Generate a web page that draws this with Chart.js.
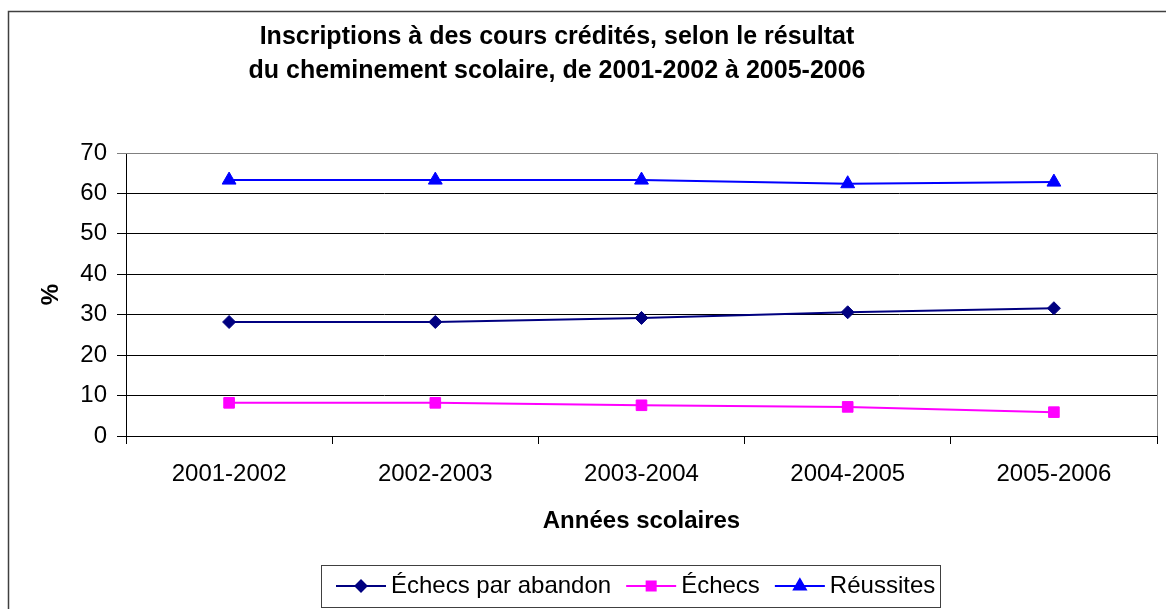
<!DOCTYPE html>
<html>
<head>
<meta charset="utf-8">
<script src="https://cdn.jsdelivr.net/npm/chart.js"></script>
<style>
  html, body { margin: 0; padding: 0; background: #fff; }
  canvas { display: block; }
</style>
</head>
<body>
<canvas id="chart" width="1166" height="609"></canvas>
<script>
// données
const years = ['2001-2002', '2002-2003', '2003-2004', '2004-2005', '2005-2006'];
const abandons = [28.2, 28.2, 29.2, 30.6, 31.6];
const echecs = [8.2, 8.2, 7.6, 7.2, 5.9];
const reussites = [63.3, 63.3, 63.3, 62.4, 62.8];

const titleLines = ['Inscriptions à des cours crédités, selon le résultat',
                    'du cheminement scolaire, de 2001-2002 à 2005-2006'];

const FONT = '"Liberation Sans", Arial, sans-serif';

// cadre, titre, bordure du graphique et légende
const decorPlugin = {
    id: 'decor',
    afterDraw(chart) {
        const ctx = chart.ctx;
        const area = chart.chartArea;
        ctx.save();

        ctx.strokeStyle = '#404040';
        ctx.lineWidth = 1.5;
        ctx.strokeRect(8.5, 11.5, 1200, 700);

        ctx.strokeStyle = '#808080';
        ctx.lineWidth = 1;
        ctx.beginPath();
        ctx.moveTo(area.left, Math.round(area.top) + 0.5);
        ctx.lineTo(Math.round(area.right) + 0.5, Math.round(area.top) + 0.5);
        ctx.lineTo(Math.round(area.right) + 0.5, area.bottom);
        ctx.stroke();

        ctx.fillStyle = '#000';
        ctx.font = 'bold 25px ' + FONT;
        ctx.textAlign = 'center';
        ctx.textBaseline = 'middle';
        ctx.fillText(titleLines[0], 557, 37);
        ctx.fillText(titleLines[1], 557, 71);

        // légende
        const box = { x: 321.5, y: 565.5, w: 619, h: 42 };
        ctx.strokeStyle = '#404040';
        ctx.lineWidth = 1;
        ctx.strokeRect(box.x, box.y, box.w, box.h);
        ctx.font = '24px ' + FONT;
        ctx.textAlign = 'left';
        let x = 336;
        const y = 586;
        chart.data.datasets.forEach(ds => {
            ctx.strokeStyle = ds.borderColor;
            ctx.lineWidth = 2;
            ctx.beginPath();
            ctx.moveTo(x, y);
            ctx.lineTo(x + 50, y);
            ctx.stroke();
            ctx.fillStyle = ds.backgroundColor;
            Chart.helpers.drawPoint(ctx, {
                pointStyle: ds.pointStyle,
                radius: ds.pointRadius * 0.85,
                rotation: 0,
                borderWidth: 1
            }, x + 25, y);
            ctx.fillStyle = '#000';
            ctx.fillText(ds.label, x + 55, y);
            x += 55 + ctx.measureText(ds.label).width + 15;
        });
        ctx.restore();
    }
};

new Chart(document.getElementById('chart'), {
    type: 'line',
    data: {
        labels: years,
        datasets: [
            {
                label: 'Échecs par abandon',
                data: abandons,
                borderColor: '#000080',
                backgroundColor: '#000080',
                pointStyle: 'rectRot',
                pointRadius: 6.5
            },
            {
                label: 'Échecs',
                data: echecs,
                borderColor: '#FF00FF',
                backgroundColor: '#FF00FF',
                pointStyle: 'rect',
                pointRadius: 7.5
            },
            {
                label: 'Réussites',
                data: reussites,
                borderColor: '#0000FF',
                backgroundColor: '#0000FF',
                pointStyle: 'triangle',
                pointRadius: 8
            }
        ]
    },
    options: {
        responsive: false,
        animation: false,
        devicePixelRatio: 1,
        layout: { padding: { top: 153, left: 0, right: 5, bottom: 73 } },
        elements: {
            line: { borderWidth: 2, tension: 0 },
            point: { borderWidth: 1, hoverRadius: 8 }
        },
        plugins: {
            legend: { display: false },
            title: { display: false },
            tooltip: { enabled: false }
        },
        scales: {
            x: {
                offset: true,
                afterFit: scale => { scale.height = 100; },
                grid: {
                    offset: true,
                    drawOnChartArea: false,
                    drawTicks: true,
                    tickLength: 8,
                    color: '#000'
                },
                border: { color: '#000', width: 1 },
                ticks: {
                    color: '#000',
                    padding: 16,
                    maxRotation: 0,
                    font: { family: FONT, size: 24 }
                },
                title: {
                    display: true,
                    text: 'Années scolaires',
                    color: '#000',
                    padding: { top: 0, bottom: 0 },
                    font: { family: FONT, size: 24, weight: 'bold' }
                }
            },
            y: {
                min: 0,
                max: 70,
                afterFit: scale => { scale.width = 126; },
                ticks: {
                    stepSize: 10,
                    color: '#000',
                    padding: 10,
                    font: { family: FONT, size: 24 }
                },
                grid: {
                    color: ctx => ctx.tick && ctx.tick.value === 70 ? '#808080' : '#000',
                    tickLength: 9,
                    lineWidth: 1
                },
                border: { color: '#000', width: 1 },
                title: {
                    display: true,
                    text: '%',
                    color: '#000',
                    padding: { top: 37, bottom: 0 },
                    font: { family: FONT, size: 24, weight: 'bold' }
                }
            }
        }
    },
    plugins: [decorPlugin]
});
</script>
</body>
</html>
